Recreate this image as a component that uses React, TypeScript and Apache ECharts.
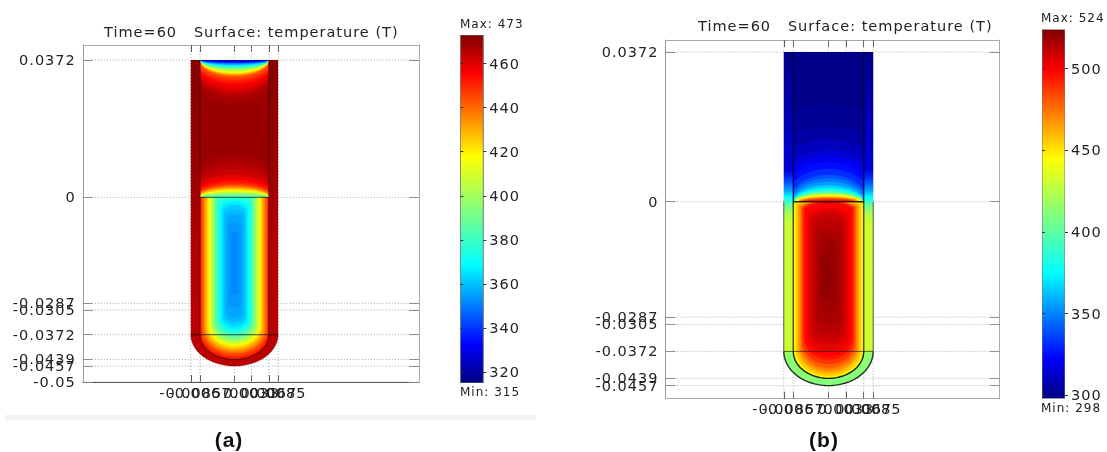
import React, { useEffect, useRef } from "react";
import * as echarts from "echarts";

// ---------- axis tick values ----------
const xTicks = [-0.0085, -0.0067, 0, 0.0033, 0.0067, 0.0085];
const yTicksA = [-0.05, -0.0457, -0.0439, -0.0372, -0.0305, -0.0287, 0, 0.0372];
const yTicksB = [-0.0457, -0.0439, -0.0372, -0.0305, -0.0287, 0, 0.0372];
const barTicksA = [320, 340, 360, 380, 400, 420, 440, 460];
const barTicksB = [300, 350, 400, 450, 500];
const rangeA = [315, 473];
const rangeB = [298, 524];

// ---------- tube geometry (model coordinates) ----------
const innerR = 0.0067;
const outerR = 0.0085;
const tubeTop = 0.0372;
const capStart = -0.0372;
const innerBottom = -0.0439;
const outerBottom = -0.0457;

// ---------- jet colour scale ----------
const jetPos = [0, 0.11, 0.34, 0.65, 0.89, 1];
const jetRgb = [[0, 0, 128], [0, 0, 255], [0, 255, 255], [255, 255, 0], [255, 0, 0], [128, 0, 0]];

// ---------- panel (a): isotherms ----------
const wallYA = [0.0372, 0.015, 0, -0.012, -0.03, -0.0457];
const wallTA = [472, 470, 468, 466, 465, 465];
const upperBaseTA = 469.5;

const bowlTA = [468, 467, 465, 462, 460, 458, 455, 452, 450, 447, 445, 440, 435, 430, 425, 420, 415, 410, 405, 395, 385, 375, 365, 355, 345, 335, 325];
const bowlWA = [0.0095, 0.009, 0.0088, 0.0085, 0.0083, 0.0082, 0.008, 0.0078, 0.0076, 0.0074, 0.0072, 0.0069, 0.0067, 0.0067, 0.0067, 0.0067, 0.0067, 0.0067, 0.0067, 0.0067, 0.0067, 0.0067, 0.0067, 0.0067, 0.0067, 0.0067, 0.0067];
const bowlDA = [0.012, 0.0105, 0.0098, 0.0089, 0.0083, 0.0077, 0.0068, 0.0062, 0.0058, 0.0053, 0.0049, 0.0045, 0.0042, 0.004, 0.0038, 0.0036, 0.0034, 0.0032, 0.003, 0.0026, 0.0023, 0.002, 0.0016, 0.0013, 0.00095, 0.00075, 0.00054];

const domeTA = [468, 467, 465, 463, 460, 458, 454, 450, 443, 435, 425, 415, 405, 395, 385, 378];
const domeWA = [0.0105, 0.0095, 0.0092, 0.009, 0.0087, 0.0085, 0.0081, 0.0078, 0.0075, 0.0072, 0.007, 0.0069, 0.0068, 0.0067, 0.0067, 0.0067];
const domeDA = [0.0115, 0.0102, 0.009, 0.0076, 0.0063, 0.0057, 0.0048, 0.0041, 0.0035, 0.003, 0.0025, 0.002, 0.0015, 0.0011, 0.0006, 0.0003];

const capsTA = [452, 446, 440, 434, 428, 422, 416, 410, 404, 398, 392, 386, 380, 375, 370, 366, 362, 359, 356, 354, 352];
const capsWA = [0.0067, 0.00645, 0.0062, 0.0059, 0.0056, 0.0053, 0.005, 0.00475, 0.0045, 0.00425, 0.004, 0.0037, 0.0034, 0.0032, 0.0029, 0.0026, 0.0023, 0.002, 0.0016, 0.0012, 0.0007];
const capsTopA = [0, 0, 0, 0, 0, 0, 0, 0, 0, 0, 0, 0, 0, -0.0003, -0.0007, -0.0012, -0.002, -0.0032, -0.0047, -0.0068, -0.0093];
const capsTopCapA = [0, 0, 0, 0, 0, 0, 0, 0, 0, 0, 0, 0, 0, 0.0012, 0.002, 0.002, 0.002, 0.0017, 0.0014, 0.001, 0.0006];
const capsBotA = [-0.0439, -0.0431, -0.0423, -0.0418, -0.0413, -0.0407, -0.0402, -0.0398, -0.0394, -0.0389, -0.0384, -0.0379, -0.0373, -0.0367, -0.0361, -0.0355, -0.0348, -0.0338, -0.0326, -0.0298, -0.0264];
const capsBotCapA = [0.0067, 0.00655, 0.0064, 0.0062, 0.006, 0.0058, 0.0056, 0.0054, 0.0052, 0.005, 0.0048, 0.0045, 0.0042, 0.0038, 0.0034, 0.003, 0.0026, 0.0021, 0.0016, 0.0011, 0.0006];

// ---------- panel (b): isotherms ----------
const wallYB = [0.0372, 0.0079, 0.0054, 0.0029, 0.0012, 0, -0.0013, -0.0033, -0.0058, -0.0371, -0.0378, -0.0457];
const wallTB = [300, 315, 335, 355, 375, 390, 408, 425, 431, 431, 414, 411];
const upperBaseTB = 300;

const domeTB = [302, 305, 310, 315, 320, 325, 332, 340, 347, 355, 365, 375, 385, 395, 403, 411, 420, 430, 437, 445, 455, 465, 475, 485, 492, 499];
const domeWB = [0.022, 0.016, 0.0135, 0.0114, 0.0103, 0.0094, 0.0084, 0.0075, 0.0072, 0.0069, 0.0068, 0.0067, 0.0067, 0.0067, 0.0066, 0.0066, 0.0065, 0.0064, 0.0063, 0.0062, 0.006, 0.0058, 0.0055, 0.0052, 0.0049, 0.0045];
const domeDB = [0.024, 0.0186, 0.0155, 0.0129, 0.0113, 0.0099, 0.0082, 0.0067, 0.0058, 0.005, 0.0041, 0.0034, 0.003, 0.0026, 0.0024, 0.0022, 0.002, 0.0019, 0.0017, 0.0016, 0.0014, 0.0012, 0.001, 0.0008, 0.0006, 0.0004];

const capsTB = [448, 456, 465, 472, 480, 488, 495, 499, 503, 506, 510, 513, 516, 518, 520, 522];
const capsWB = [0.0067, 0.0062, 0.0058, 0.0055, 0.0052, 0.005, 0.0047, 0.0044, 0.004, 0.0036, 0.0032, 0.0027, 0.0023, 0.0017, 0.0012, 0.0006];
const capsTopB = [0, 0, 0, 0, 0, 0, 0, -0.0003, -0.0016, -0.0022, -0.0028, -0.0045, -0.007, -0.009, -0.012, -0.016];
const capsTopCapB = [0, 0.0006, 0.001, 0.0012, 0.0015, 0.0018, 0.002, 0.0022, 0.0025, 0.0025, 0.0025, 0.0022, 0.002, 0.0015, 0.001, 0.0006];
const capsBotB = [-0.0439, -0.0433, -0.0426, -0.042, -0.0413, -0.0404, -0.0393, -0.0385, -0.0374, -0.0362, -0.0349, -0.0328, -0.0306, -0.0275, -0.0244, -0.02];
const capsBotCapB = [0.0067, 0.0066, 0.0064, 0.0062, 0.006, 0.0057, 0.0054, 0.005, 0.0046, 0.004, 0.0034, 0.0028, 0.0022, 0.0017, 0.0012, 0.0007];

const FONT = "DejaVu Sans";
const TEXT = "#222";

function tempColor(t: number, range: number[]) {
  const f = Math.min(1, Math.max(0, (t - range[0]) / (range[1] - range[0])));
  let i = 0;
  while (i < jetPos.length - 2 && f > jetPos[i + 1]) i++;
  const k = (f - jetPos[i]) / (jetPos[i + 1] - jetPos[i]);
  const c = jetRgb[i].map((v, n) => Math.round(v + (jetRgb[i + 1][n] - v) * k));
  return `rgb(${c[0]},${c[1]},${c[2]})`;
}

function zip(...cols: number[][]) {
  return cols[0].map((_, i) => cols.map((c) => c[i]));
}

function capsulePts(api: any, w: number, top: number, topCap: number, bottom: number, botCap: number) {
  const pts: number[][] = [];
  const n = 28;
  for (let i = 0; i <= n; i++) {
    const a = (Math.PI * i) / n;
    pts.push(api.coord([-w * Math.cos(a), top - topCap + topCap * Math.sin(a)]));
  }
  for (let i = 0; i <= n; i++) {
    const a = (Math.PI * i) / n;
    pts.push(api.coord([w * Math.cos(a), bottom + botCap - botCap * Math.sin(a)]));
  }
  return pts;
}

function domePts(api: any, y0: number, dir: number, w: number, d: number) {
  const pts: number[][] = [];
  const n = 36;
  for (let i = 0; i <= n; i++) {
    const x = -w + (2 * w * i) / n;
    const r = Math.sqrt(Math.max(0, 1 - (x / w) * (x / w)));
    pts.push(api.coord([Math.max(-innerR, Math.min(innerR, x)), y0 + dir * d * r]));
  }
  return pts;
}

function custom(xi: number, yi: number, data: any[], renderItem: any, z = 2) {
  return { type: "custom", coordinateSystem: "cartesian2d", xAxisIndex: xi, yAxisIndex: yi, data, renderItem, silent: true, clip: true, z };
}

function gridSeries(xi: number, yi: number, xs: number[], ys: number[], xr: number[], yr: number[]) {
  const rows = [...xs.map((v) => [0, v]), ...ys.map((v) => [1, v])];
  return custom(xi, yi, rows, (p: any, api: any) => {
    const [k, v] = rows[p.dataIndex];
    const a = k === 0 ? api.coord([v, yr[0]]) : api.coord([xr[0], v]);
    const b = k === 0 ? api.coord([v, yr[1]]) : api.coord([xr[1], v]);
    return { type: "line", shape: { x1: a[0], y1: a[1], x2: b[0], y2: b[1] }, style: { stroke: "#a8a8a8", lineWidth: 1, lineDash: [1, 2] } };
  }, 1);
}

function panelSeries(xi: number, yi: number, o: any) {
  const r = o.range;
  const out: any[] = [gridSeries(xi, yi, xTicks, o.yTicks, o.xr, o.yr)];
  // wall
  out.push(custom(xi, yi, [[0, 0]], (_p: any, api: any) => {
    const span = tubeTop - outerBottom;
    const stops = o.wallY.map((y: number, i: number) => ({ offset: (tubeTop - y) / span, color: tempColor(o.wallT[i], r) }));
    return {
      type: "polygon",
      shape: { points: capsulePts(api, outerR, tubeTop, 0, outerBottom, outerBottom * -1 + capStart) },
      style: { fill: new echarts.graphic.LinearGradient(0, 0, 0, 1, stops) },
    };
  }));
  // upper part of the inner domain
  out.push(custom(xi, yi, [[0, 0]], (_p: any, api: any) => ({
    type: "polygon",
    shape: { points: [api.coord([-innerR, tubeTop]), api.coord([innerR, tubeTop]), api.coord([innerR, 0]), api.coord([-innerR, 0])] },
    style: { fill: tempColor(o.upperT, r) },
  })));
  const levelStyle = (t: number) => ({ fill: tempColor(t, r) });
  if (o.bowl) {
    const rows = zip(o.bowl.t, o.bowl.w, o.bowl.d);
    out.push(custom(xi, yi, rows, (p: any, api: any) => {
      const [t, w, d] = rows[p.dataIndex];
      return { type: "polygon", shape: { points: domePts(api, tubeTop, -1, w, d) }, style: levelStyle(t) };
    }));
  }
  const domeRows = zip(o.dome.t, o.dome.w, o.dome.d);
  out.push(custom(xi, yi, domeRows, (p: any, api: any) => {
    const [t, w, d] = domeRows[p.dataIndex];
    return { type: "polygon", shape: { points: domePts(api, 0, 1, w, d) }, style: levelStyle(t) };
  }));
  const capsRows = zip(o.caps.t, o.caps.w, o.caps.top, o.caps.topCap, o.caps.bot, o.caps.botCap);
  out.push(custom(xi, yi, capsRows, (p: any, api: any) => {
    const [t, w, top, tc, bot, bc] = capsRows[p.dataIndex];
    return { type: "polygon", shape: { points: capsulePts(api, w, top, tc, bot, bc) }, style: levelStyle(t) };
  }));
  // geometry outlines
  out.push(custom(xi, yi, [[0, 0]], (_p: any, api: any) => {
    const line = (pts: number[][], stroke: string, lineWidth: number) => ({
      type: "polyline",
      shape: { points: pts.map((q) => api.coord(q)) },
      style: { stroke, lineWidth, fill: "none" },
    });
    const arc = (R: number, h: number) => {
      const pts: number[][] = [];
      for (let i = 0; i <= 40; i++) {
        const a = (Math.PI * i) / 40;
        pts.push([-R * Math.cos(a), capStart - h * Math.sin(a)]);
      }
      return pts;
    };
    return {
      type: "group",
      children: [
        line([[-innerR, tubeTop], [-innerR, capStart]], o.upperStroke, o.lw),
        line([[innerR, tubeTop], [innerR, capStart]], o.upperStroke, o.lw),
        line([[-innerR, 0], [innerR, 0]], o.stroke, o.lw),
        line([[-outerR, capStart], [outerR, capStart]], o.capLine, 1),
        line(arc(innerR, capStart - innerBottom), o.stroke, o.lw),
        line(arc(outerR, capStart - outerBottom), o.outerStroke, o.lw),
        line([[-outerR, 0], [-outerR, capStart]], o.sideStroke, 1),
        line([[outerR, 0], [outerR, capStart]], o.sideStroke, 1),
      ],
    };
  }, 3));
  return out;
}

function barSeries(xi: number, yi: number, range: number[]) {
  return custom(xi, yi, [[0, range[0]]], (_p: any, api: any) => {
    const a = api.coord([0, range[1]]);
    const b = api.coord([1, range[0]]);
    const stops = jetPos.map((p) => ({ offset: 1 - p, color: tempColor(range[0] + p * (range[1] - range[0]), range) })).reverse();
    return {
      type: "rect",
      shape: { x: a[0], y: a[1], width: b[0] - a[0], height: b[1] - a[1] },
      style: { fill: new echarts.graphic.LinearGradient(0, 0, 0, 1, stops), stroke: "#777", lineWidth: 1 },
    };
  });
}

// Empty sentinels at the axis ends stop ECharts from dropping the overlapping labels next to them.
function withEnds(ticks: number[], ext: number[]) {
  return [...(ticks[0] > ext[0] ? [ext[0]] : []), ...ticks, ...(ticks[ticks.length - 1] < ext[1] ? [ext[1]] : [])];
}

function mainAxes(gridIndex: number, xr: number[], yr: number[], yTicks: number[], bottomColor: string) {
  const label = (ticks: number[], margin: number, ext: number[]) => ({
    show: true, fontFamily: FONT, fontSize: 14.5, color: TEXT, margin, hideOverlap: false,
    customValues: withEnds(ticks, ext),
    formatter: (v: number) => (ticks.includes(v) ? String(v) : ""),
  });
  const common = { gridIndex, type: "value", splitLine: { show: false } };
  const tick = (vals: number[], length: number, color: string) => ({ show: true, inside: true, length, customValues: vals, lineStyle: { color, width: 1 } });
  const axisLine = (color: string) => ({ show: true, onZero: false, lineStyle: { color } });
  const x = { ...common, min: xr[0], max: xr[1] };
  const y = { ...common, min: yr[0], max: yr[1] };
  return {
    xAxis: [
      { ...x, position: "bottom", axisLine: axisLine(bottomColor), axisTick: tick(xTicks, 7, "#555"), axisLabel: label(xTicks, 3, xr) },
      { ...x, position: "top", axisLine: axisLine("#aaa"), axisTick: tick(xTicks, 7, "#555"), axisLabel: { show: false } },
    ],
    yAxis: [
      { ...y, position: "left", axisLine: axisLine("#999"), axisTick: tick(yTicks, 10, "#888"), axisLabel: label(yTicks, 7, yr) },
      { ...y, position: "right", axisLine: axisLine("#aaa"), axisTick: tick(yTicks, 10, "#888"), axisLabel: { show: false } },
    ],
  };
}

function barAxes(gridIndex: number, range: number[], ticks: number[]) {
  const common = { gridIndex, type: "value", splitLine: { show: false }, min: range[0], max: range[1], z: 4, axisLine: { show: false, onZero: false } };
  return {
    xAxis: [{ gridIndex, type: "value", min: 0, max: 1, show: false, splitLine: { show: false } }],
    yAxis: [
      { ...common, position: "right", axisTick: { show: true, inside: false, length: 3, customValues: ticks, lineStyle: { color: "#333" } }, axisLabel: { show: true, customValues: ticks, showMinLabel: true, showMaxLabel: true, fontFamily: FONT, fontSize: 14.5, color: TEXT, margin: 6 } },
      { ...common, position: "left", axisTick: { show: true, inside: true, length: 3, customValues: ticks, lineStyle: { color: "#333" } }, axisLabel: { show: false } },
    ],
  };
}

function buildOption() {
  const xrA = [-0.0295, 0.0359];
  const yrA = [-0.05, 0.04126];
  const xrB = [-0.03099, 0.03255];
  const yrB = [-0.04896, 0.0402];
  const ma = mainAxes(0, xrA, yrA, yTicksA, "#555");
  const ba = barAxes(1, rangeA, barTicksA);
  const mb = mainAxes(2, xrB, yrB, yTicksB, "#aaa");
  const bb = barAxes(3, rangeB, barTicksB);
  const txt = (text: string, x: number, y: number) => ({
    type: "text", x, y, silent: true,
    style: { text, fontFamily: FONT, fontSize: 12, fill: TEXT, textVerticalAlign: "middle" },
  });
  const cap = (text: string, x: number) => ({
    type: "text", x, y: 439, silent: true,
    style: { text, fontFamily: "Liberation Sans", fontWeight: "bold", fontSize: 21, fill: "#111", textAlign: "center", textVerticalAlign: "middle" },
  });
  const titleStyle = { fontFamily: FONT, fontSize: 14.5, fontWeight: "normal", color: TEXT };
  return {
    animation: false,
    backgroundColor: "#fff",
    title: [
      { text: "Time=60   Surface: temperature (T)", left: 104, top: 24, textStyle: titleStyle, padding: 0 },
      { text: "Time=60   Surface: temperature (T)", left: 698, top: 18.5, textStyle: titleStyle, padding: 0 },
    ],
    grid: [
      { left: 82.8, top: 45, width: 336.2, height: 337, outerBoundsMode: "none" },
      { left: 460.3, top: 35, width: 23, height: 348, outerBoundsMode: "none" },
      { left: 665.5, top: 40, width: 334.2, height: 358.7, outerBoundsMode: "none" },
      { left: 1042, top: 29.5, width: 23, height: 369, outerBoundsMode: "none" },
    ],
    xAxis: [...ma.xAxis, ...ba.xAxis, ...mb.xAxis, ...bb.xAxis],
    yAxis: [...ma.yAxis, ...ba.yAxis, ...mb.yAxis, ...bb.yAxis],
    graphic: [
      { type: "rect", shape: { x: 5, y: 415, width: 531, height: 5 }, style: { fill: "#f1f1f1" }, silent: true },
      txt("Max: 473", 460, 24),
      txt("Min: 315", 460, 392),
      txt("Max: 524", 1041, 18),
      txt("Min: 298", 1041, 408),
      cap("(a)", 229),
      cap("(b)", 824),
    ],
    series: [
      ...panelSeries(0, 0, {
        range: rangeA, yTicks: yTicksA, xr: xrA, yr: yrA, wallY: wallYA, wallT: wallTA, upperT: upperBaseTA,
        bowl: { t: bowlTA, w: bowlWA, d: bowlDA }, dome: { t: domeTA, w: domeWA, d: domeDA },
        caps: { t: capsTA, w: capsWA, top: capsTopA, topCap: capsTopCapA, bot: capsBotA, botCap: capsBotCapA },
        upperStroke: "rgba(40,0,0,0.65)", stroke: "rgba(20,10,10,0.7)", capLine: "rgba(20,10,10,0.75)", outerStroke: "rgba(90,0,0,0.25)", sideStroke: "rgba(90,0,0,0)", lw: 1,
      }),
      barSeries(2, 2, rangeA),
      ...panelSeries(3, 4, {
        range: rangeB, yTicks: yTicksB, xr: xrB, yr: yrB, wallY: wallYB, wallT: wallTB, upperT: upperBaseTB,
        bowl: null, dome: { t: domeTB, w: domeWB, d: domeDB },
        caps: { t: capsTB, w: capsWB, top: capsTopB, topCap: capsTopCapB, bot: capsBotB, botCap: capsBotCapB },
        upperStroke: "rgba(0,0,30,0.7)", stroke: "rgba(10,10,10,0.9)", capLine: "rgba(30,30,20,0.7)", outerStroke: "rgba(10,10,10,0.85)", sideStroke: "rgba(20,40,10,0.7)", lw: 1.4,
      }),
      barSeries(5, 6, rangeB),
    ],
  };
}

export default function App() {
  const ref = useRef<HTMLDivElement>(null);
  useEffect(() => {
    document.body.style.margin = "0";
    const chart = echarts.init(ref.current!, null, { renderer: "svg" });
    chart.setOption(buildOption() as any);
    return () => chart.dispose();
  }, []);
  return <div ref={ref} style={{ width: 1107, height: 452, letterSpacing: "1px", filter: "blur(0.7px)" }} />;
}
